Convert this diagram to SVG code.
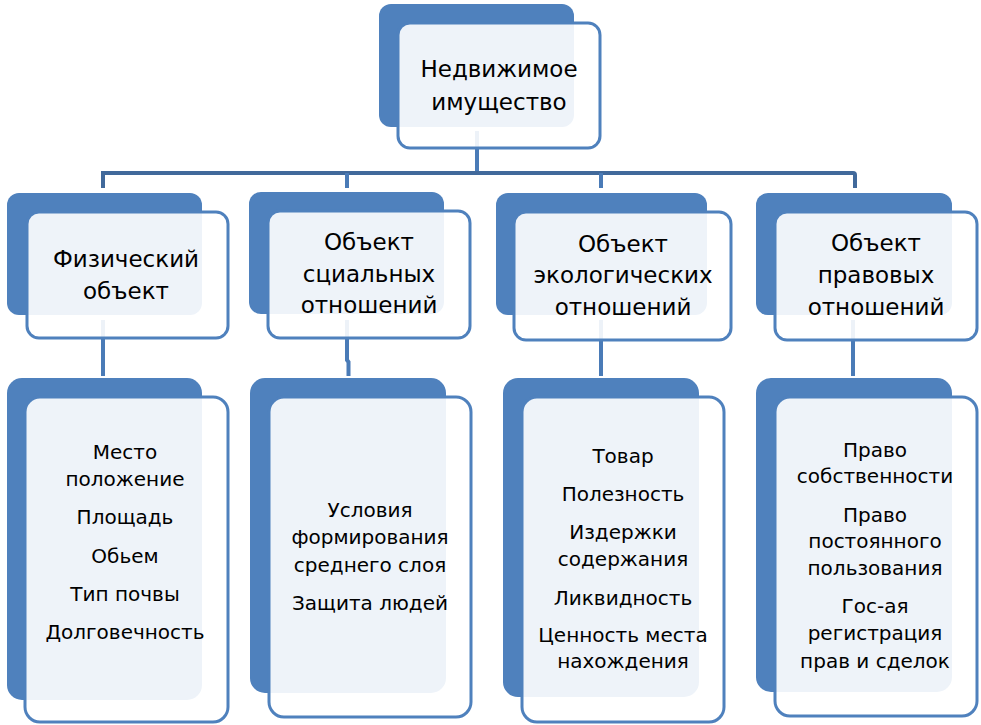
<svg xmlns="http://www.w3.org/2000/svg" width="981" height="725" viewBox="0 0 981 725">
<style>
.back{fill:#4F81BD;}
.front{fill:#FFFFFF;fill-opacity:0.9;stroke:#4F81BD;stroke-width:3;}
.conn{stroke:#4A7BB7;stroke-width:4;fill:none;}
.bar{stroke:#41699B;stroke-width:4;fill:none;}
text{font-family:"DejaVu Sans","Liberation Sans",sans-serif;fill:#000;text-anchor:middle;}
.t1{font-size:23px;}
.t2{font-size:23px;}
.t3{font-size:20px;}
</style>
<rect width="981" height="725" fill="#FFFFFF"/>
<g id="connectors">
<path class="conn" d="M477 131 V172"/>
<path class="bar" d="M103 188 V173 H853 Q855 173 855 175 V188"/>
<path class="conn" d="M347 173 V188"/>
<path class="conn" d="M601 173 V188"/>
<path class="conn" d="M103 320 V376"/>
<path class="conn" d="M347 320 V360 L348.5 362 V376"/>
<path class="conn" d="M601 320 V376"/>
<path class="conn" d="M853 320 V376"/>
</g>
<g id="root">
<rect class="back" x="379" y="4" width="195" height="123" rx="12"/>
<rect class="front" x="398" y="23" width="202" height="125" rx="12"/>
<text class="t1" x="499" y="77">Недвижимое</text>
<text class="t1" x="499" y="110">имущество</text>
</g>
<g id="n-phys">
<rect class="back" x="7" y="193" width="195" height="122" rx="12"/>
<rect class="front" x="27" y="212" width="201" height="126" rx="12"/>
<text class="t2" x="126" y="267">Физический</text>
<text class="t2" x="126" y="299">объект</text>
</g>
<g id="n-social">
<rect class="back" x="249" y="192" width="195" height="122" rx="12"/>
<rect class="front" x="268" y="211" width="202" height="127" rx="12"/>
<text class="t2" x="369" y="250">Объект</text>
<text class="t2" x="369" y="282">сциальных</text>
<text class="t2" x="369" y="313">отношений</text>
</g>
<g id="n-eco">
<rect class="back" x="496" y="193" width="211" height="122" rx="12"/>
<rect class="front" x="514" y="212" width="217" height="128" rx="12"/>
<text class="t2" x="623" y="252">Объект</text>
<text class="t2" x="623" y="283">экологических</text>
<text class="t2" x="623" y="315">отношений</text>
</g>
<g id="n-legal">
<rect class="back" x="756" y="193" width="196" height="122" rx="12"/>
<rect class="front" x="775" y="212" width="202" height="128" rx="12"/>
<text class="t2" x="876" y="251">Объект</text>
<text class="t2" x="876" y="283">правовых</text>
<text class="t2" x="876" y="315">отношений</text>
</g>
<g id="d-phys">
<rect class="back" x="7" y="378" width="195" height="322" rx="15"/>
<rect class="front" x="25" y="397" width="203" height="325" rx="15"/>
<text class="t3" x="125" y="459">Место</text>
<text class="t3" x="125" y="486">положение</text>
<text class="t3" x="125" y="524">Площадь</text>
<text class="t3" x="125" y="563">Обьем</text>
<text class="t3" x="125" y="601">Тип почвы</text>
<text class="t3" x="125" y="639">Долговечность</text>
</g>
<g id="d-social">
<rect class="back" x="250" y="378" width="196" height="315" rx="15"/>
<rect class="front" x="269" y="397" width="202" height="320" rx="15"/>
<text class="t3" x="370" y="517">Условия</text>
<text class="t3" x="370" y="544">формирования</text>
<text class="t3" x="370" y="572">среднего слоя</text>
<text class="t3" x="370" y="610">Защита людей</text>
</g>
<g id="d-eco">
<rect class="back" x="503" y="378" width="196" height="319" rx="15"/>
<rect class="front" x="522" y="397" width="202" height="325" rx="15"/>
<text class="t3" x="623" y="463">Товар</text>
<text class="t3" x="623" y="501">Полезность</text>
<text class="t3" x="623" y="539">Издержки</text>
<text class="t3" x="623" y="566">содержания</text>
<text class="t3" x="623" y="605">Ликвидность</text>
<text class="t3" x="623" y="642">Ценность места</text>
<text class="t3" x="623" y="668">нахождения</text>
</g>
<g id="d-legal">
<rect class="back" x="756" y="378" width="196" height="314" rx="15"/>
<rect class="front" x="775" y="397" width="202" height="319" rx="15"/>
<text class="t3" x="875" y="457">Право</text>
<text class="t3" x="875" y="483">собственности</text>
<text class="t3" x="875" y="522">Право</text>
<text class="t3" x="875" y="548">постоянного</text>
<text class="t3" x="875" y="575">пользования</text>
<text class="t3" x="875" y="613">Гос-ая</text>
<text class="t3" x="875" y="640">регистрация</text>
<text class="t3" x="875" y="668">прав и сделок</text>
</g>
</svg>
